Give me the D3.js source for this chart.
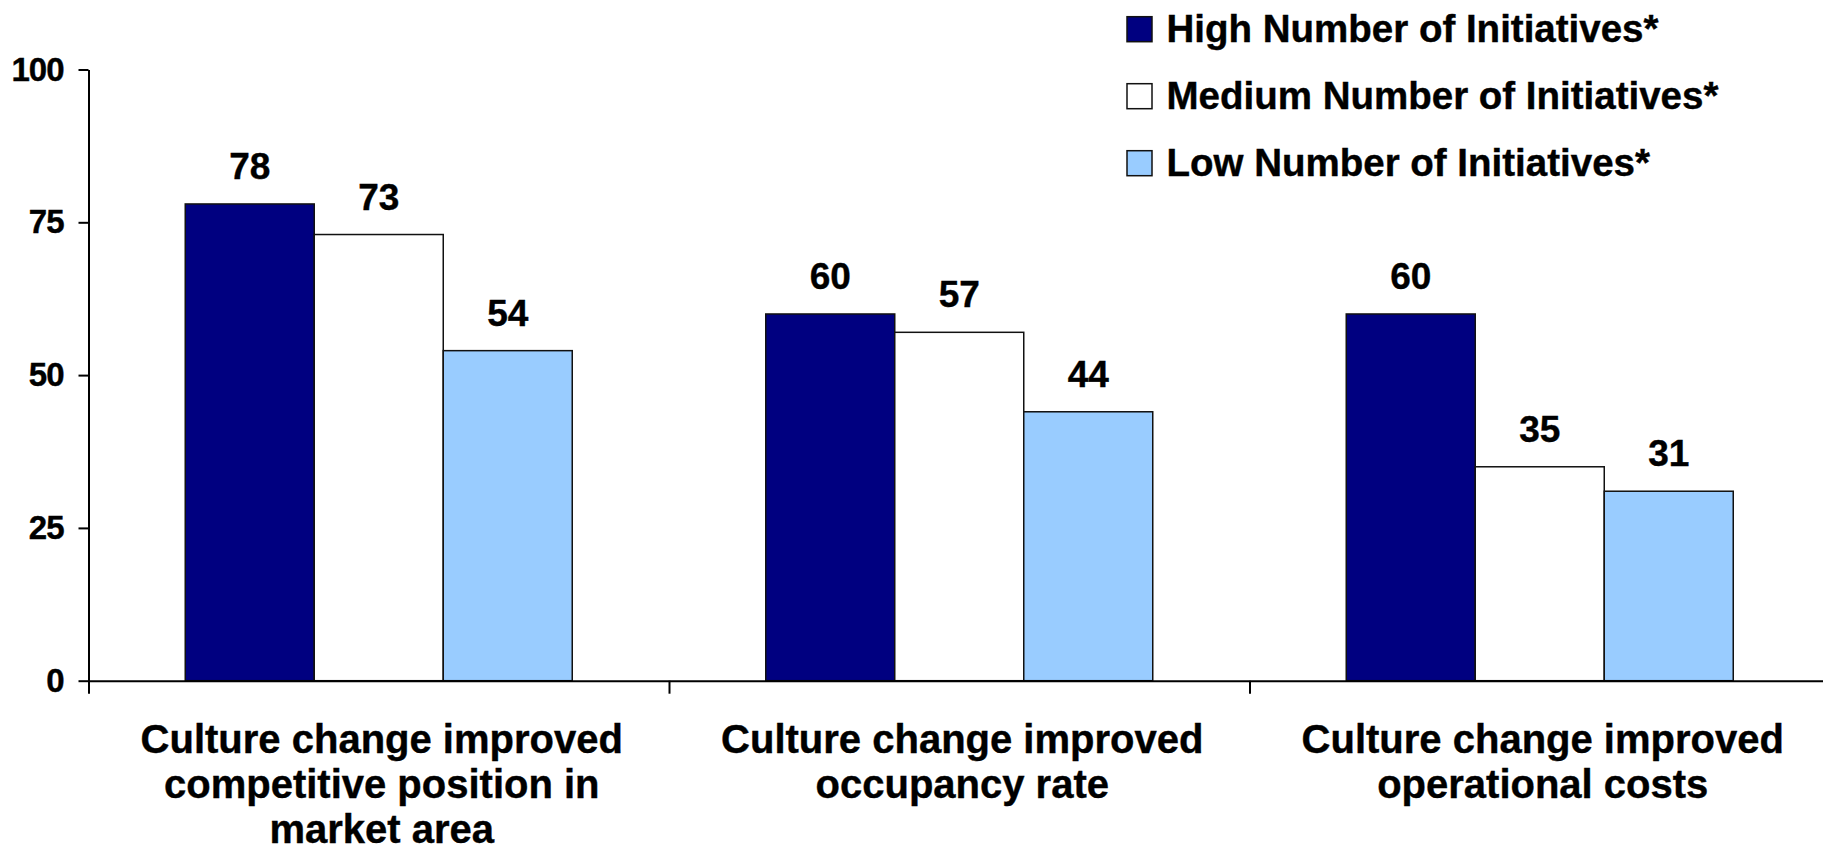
<!DOCTYPE html>
<html>

<head>
    <script type="text/javascript" src="https://d3js.org/d3.v7.min.js"></script>
    <style type="text/css">
        body {
            margin: 0;
            background: #fff;
        }

        svg {
            display: block;
            font-family: Arial, "Liberation Sans", sans-serif;
            font-weight: bold;
        }

        .axis path,
        .axis line {
            stroke: #000;
            stroke-width: 2px;
        }

        .bar {
            stroke: #111;
            stroke-width: 1.5px;
        }

        text {
            stroke: #000;
            stroke-width: 0.4px;
        }
    </style>
</head>

<body>
<div id="chart"></div>

<script type="text/javascript">
    // data
    var categories = [
        ["Culture change improved", "competitive position in", "market area"],
        ["Culture change improved", "occupancy rate"],
        ["Culture change improved", "operational costs"]
    ];
    var seriesNames = ["High Number of Initiatives*", "Medium Number of Initiatives*", "Low Number of Initiatives*"];
    var highValues = [78, 60, 60];
    var mediumValues = [73, 57, 35];
    var lowValues = [54, 44, 31];
    var yTicks = [0, 25, 50, 75, 100];

    var colors = ["#000080", "#ffffff", "#99ccff"];
    var series = [highValues, mediumValues, lowValues];

    var w = 1823,
        h = 855;
    var plotLeft = 88.5,
        plotRight = 1830,
        plotTop = 69.5,
        plotBottom = 680.7;

    var svg = d3.select("#chart")
        .append("svg")
        .attr("width", w)
        .attr("height", h);

    var x0 = d3.scaleBand()
        .domain(d3.range(categories.length))
        .range([plotLeft, plotRight])
        .padding(0);

    // bars take the middle two thirds of each category
    var x1 = d3.scaleBand()
        .domain(d3.range(series.length))
        .range([x0.bandwidth() / 6, x0.bandwidth() * 5 / 6])
        .padding(0);

    var y = d3.scaleLinear()
        .domain([0, 100])
        .range([plotBottom, plotTop]);

    // bars
    var groups = svg.append("g").attr("class", "bars")
        .selectAll("g")
        .data(categories)
        .enter().append("g")
        .attr("transform", function(d, i) {
            return "translate(" + x0(i) + ",0)";
        });

    function rows(d, i) {
        return series.map(function(s, j) {
            return {s: j, v: s[i]};
        });
    }

    groups.selectAll("rect")
        .data(rows)
        .enter().append("rect")
        .attr("class", "bar")
        .attr("x", function(d) { return x1(d.s); })
        .attr("y", function(d) { return y(d.v); })
        .attr("width", x1.bandwidth())
        .attr("height", function(d) { return y(0) - y(d.v); })
        .attr("fill", function(d) { return colors[d.s]; });

    groups.selectAll("text.value")
        .data(rows)
        .enter().append("text")
        .attr("class", "value")
        .attr("x", function(d) { return x1(d.s) + x1.bandwidth() / 2; })
        .attr("y", function(d) { return y(d.v) - 25; })
        .attr("text-anchor", "middle")
        .style("font-size", "37px")
        .text(function(d) { return d.v; });

    // y axis
    var yAxis = svg.append("g")
        .attr("class", "axis")
        .attr("transform", "translate(" + plotLeft + ",0)")
        .call(d3.axisLeft(y).tickValues(yTicks).tickSize(10).tickPadding(15).tickSizeOuter(0));
    yAxis.selectAll("text")
        .style("font-size", "33px")
        .style("font-family", "Arial, 'Liberation Sans', sans-serif")
        .style("font-weight", "bold")
        .style("letter-spacing", "-1px")
        .attr("fill", "#000");

    // x axis: baseline plus separators between categories
    var bounds = x0.domain().map(function(i) { return x0(i); }).concat([x0.range()[1]]);
    var xLine = d3.scaleLinear().domain([plotLeft, plotRight]).range([plotLeft, plotRight]);
    svg.append("g")
        .attr("class", "axis")
        .attr("transform", "translate(0," + y(0) + ")")
        .call(d3.axisBottom(xLine).tickValues(bounds).tickSize(13).tickSizeOuter(0).tickFormat(""));

    // category labels
    var labels = svg.append("g").attr("class", "cat-labels")
        .selectAll("text")
        .data(categories)
        .enter().append("text")
        .attr("text-anchor", "middle")
        .attr("x", function(d, i) { return x0(i) + x0.bandwidth() / 2 + 3; })
        .attr("y", 752.7)
        .style("font-size", "40px");

    labels.selectAll("tspan")
        .data(function(d) { return d; })
        .enter().append("tspan")
        .attr("x", function() { return d3.select(this.parentNode).attr("x"); })
        .attr("dy", function(d, i) { return i === 0 ? 0 : 45.3; })
        .text(function(d) { return d; });

    // legend
    var legend = svg.append("g").attr("class", "legend")
        .selectAll("g")
        .data(seriesNames)
        .enter().append("g")
        .attr("transform", function(d, i) {
            return "translate(1127," + (29.2 + i * 67) + ")";
        });

    legend.append("rect")
        .attr("x", 0)
        .attr("y", -12.5)
        .attr("width", 25)
        .attr("height", 25)
        .attr("fill", function(d, i) { return colors[i]; })
        .attr("stroke", "#111")
        .attr("stroke-width", 1.5);

    legend.append("text")
        .attr("x", 39.5)
        .attr("y", 12.5)
        .style("font-size", "38.5px")
        .text(function(d) { return d; });
</script>
</body>

</html>
